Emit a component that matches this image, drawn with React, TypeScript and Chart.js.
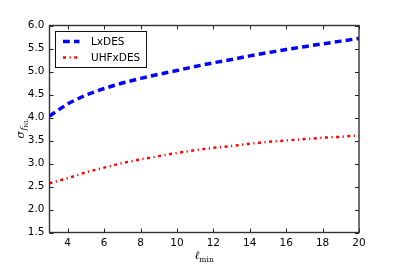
import React, { useEffect, useRef } from 'react';
import { Chart, registerables } from 'chart.js';

Chart.register(...registerables);

const lMin = [3, 4, 5, 6, 7, 8, 9, 10, 11, 12, 13, 14, 15, 16, 17, 18, 19, 20];
const lxdes = [4.03, 4.3, 4.49, 4.63, 4.75, 4.85, 4.94, 5.02, 5.11, 5.19, 5.26, 5.34, 5.41, 5.48, 5.54, 5.6, 5.66, 5.72];
const uhfxdes = [2.57, 2.68, 2.81, 2.91, 3.01, 3.09, 3.16, 3.23, 3.29, 3.34, 3.38, 3.43, 3.47, 3.5, 3.53, 3.56, 3.58, 3.61];
const seriesLabels = ['LxDES', 'UHFxDES'];
const xTicks = [4, 6, 8, 10, 12, 14, 16, 18, 20];
const yTicks = [1.5, 2.0, 2.5, 3.0, 3.5, 4.0, 4.5, 5.0, 5.5, 6.0];

const SANS = '"DejaVu Sans", sans-serif';
const SERIF = '"DejaVu Serif", serif';

const framePlugin = {
  id: 'frame',
  afterDraw(chart: any) {
    const { ctx, chartArea: a, scales } = chart;
    ctx.save();
    // inward ticks on all four sides
    ctx.strokeStyle = '#222';
    ctx.lineWidth = 1;
    const L = 4;
    ctx.beginPath();
    for (const v of xTicks) {
      const x = Math.round(scales.x.getPixelForValue(v)) + 0.5;
      ctx.moveTo(x, a.bottom);
      ctx.lineTo(x, a.bottom - L);
      ctx.moveTo(x, a.top);
      ctx.lineTo(x, a.top + L);
    }
    for (const v of yTicks) {
      const y = Math.round(scales.y.getPixelForValue(v)) + 0.5;
      ctx.moveTo(a.left, y);
      ctx.lineTo(a.left + L, y);
      ctx.moveTo(a.right, y);
      ctx.lineTo(a.right - L, y);
    }
    ctx.stroke();
    // frame
    ctx.lineWidth = 1.4;
    ctx.strokeStyle = '#333';
    ctx.strokeRect(a.left, a.top, a.right - a.left, a.bottom - a.top);

    // legend
    const bx = a.left + 6, by = a.top + 6, bw = 91, bh = 36;
    ctx.fillStyle = '#fff';
    ctx.fillRect(bx, by, bw, bh);
    ctx.lineWidth = 1;
    ctx.strokeStyle = '#111';
    ctx.strokeRect(bx, by, bw, bh);
    chart.data.datasets.forEach((ds: any, i: number) => {
      const y = by + 10 + i * 16;
      ctx.save();
      ctx.strokeStyle = ds.borderColor;
      ctx.lineWidth = ds.borderWidth;
      ctx.setLineDash(ds.borderDash);
      ctx.beginPath();
      ctx.moveTo(bx + 7.5, y);
      ctx.lineTo(bx + 24, y);
      ctx.stroke();
      ctx.restore();
      ctx.fillStyle = '#000';
      ctx.font = '10.5px ' + SANS;
      ctx.textBaseline = 'middle';
      ctx.textAlign = 'left';
      ctx.fillText(ds.label, bx + 35.5, y + 0.5);
    });

    // x-axis title: ℓ_min
    const cx = (a.left + a.right) / 2;
    ctx.fillStyle = '#000';
    ctx.textBaseline = 'alphabetic';
    ctx.textAlign = 'left';
    ctx.font = 'italic 11px ' + SERIF;
    const wl = ctx.measureText('ℓ').width;
    ctx.font = '7.5px ' + SERIF;
    const wm = ctx.measureText('min').width;
    const x0 = cx - (wl + wm) / 2;
    ctx.font = 'italic 11px ' + SERIF;
    ctx.fillText('ℓ', x0, 258.5);
    ctx.font = '7.5px ' + SERIF;
    ctx.fillText('min', x0 + wl, 261.5);

    // y-axis title: σ_{f_NL}
    const cy = (a.top + a.bottom) / 2;
    ctx.save();
    ctx.translate(23.5, cy);
    ctx.rotate(-Math.PI / 2);
    ctx.font = 'italic 11px ' + SERIF;
    const ws = ctx.measureText('σ').width;
    ctx.font = 'italic 8px ' + SERIF;
    const wf = ctx.measureText('f').width;
    ctx.font = '5.5px ' + SERIF;
    const wn = ctx.measureText('NL').width;
    const sx = -(ws + wf + wn) / 2;
    ctx.font = 'italic 11px ' + SERIF;
    ctx.fillText('σ', sx, 0);
    ctx.font = 'italic 8px ' + SERIF;
    ctx.fillText('f', sx + ws + 0.5, 2.5);
    ctx.font = '5.5px ' + SERIF;
    ctx.fillText('NL', sx + ws + wf + 0.5, 4.5);
    ctx.restore();

    ctx.restore();
  },
};

export default function App() {
  const ref = useRef<HTMLCanvasElement | null>(null);
  useEffect(() => {
    document.body.style.margin = '0';
    const canvas = ref.current!;
    const chart = new Chart(canvas, {
      type: 'line',
      data: {
        labels: lMin,
        datasets: [
          {
            label: seriesLabels[0],
            data: lMin.map((x, i) => ({ x, y: lxdes[i] })),
            borderColor: '#0000ff',
            borderWidth: 3.5,
            borderDash: [6.8, 4.2],
            pointRadius: 0,
            fill: false,
            tension: 0,
          },
          {
            label: seriesLabels[1],
            data: lMin.map((x, i) => ({ x, y: uhfxdes[i] })),
            borderColor: '#ff0000',
            borderWidth: 2.5,
            borderDash: [3, 3.5, 1.2, 3.5],
            pointRadius: 0,
            fill: false,
            tension: 0,
          },
        ],
      },
      options: {
        animation: false,
        responsive: false,
        devicePixelRatio: 1,
        layout: { padding: { top: 25.5, right: 40, left: 0, bottom: 0 } },
        plugins: { legend: { display: false }, tooltip: { enabled: false } },
        scales: {
          x: {
            type: 'linear',
            min: 3,
            max: 20,
            grid: { display: false, drawTicks: false },
            border: { display: false },
            afterBuildTicks: (s: any) => {
              s.ticks = xTicks.map((v) => ({ value: v }));
            },
            afterFit: (s: any) => {
              s.height = 33.5;
            },
            ticks: {
              color: '#000',
              font: { family: SANS, size: 10.5 },
              padding: 4,
              maxRotation: 0,
              autoSkip: false,
              callback: (v: any) => String(v),
            },
          },
          y: {
            type: 'linear',
            min: 1.5,
            max: 6.0,
            grid: { display: false, drawTicks: false },
            border: { display: false },
            afterBuildTicks: (s: any) => {
              s.ticks = yTicks.map((v) => ({ value: v }));
            },
            afterFit: (s: any) => {
              s.width = 49.5;
            },
            ticks: {
              color: '#000',
              font: { family: SANS, size: 10.5 },
              padding: 5,
              autoSkip: false,
              callback: (v: any) => Number(v).toFixed(1),
            },
          },
        },
      },
      plugins: [framePlugin],
    });
    return () => chart.destroy();
  }, []);
  return (
    <div style={{ width: 399, height: 266 }}>
      <canvas ref={ref} width={399} height={266} style={{ display: 'block' }} />
    </div>
  );
}
